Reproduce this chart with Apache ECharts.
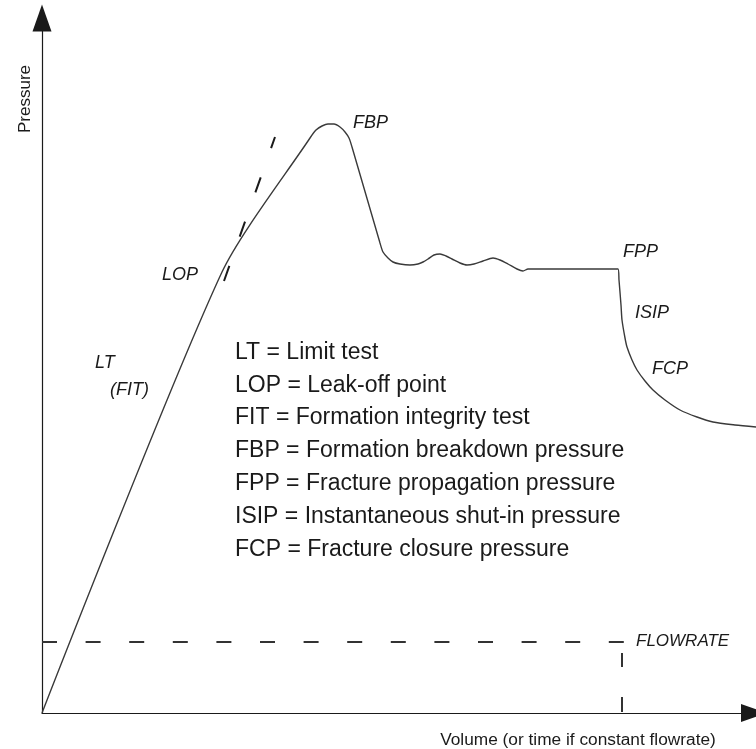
<!DOCTYPE html>
<html>
<head>
<meta charset="utf-8">
<script src="https://cdn.jsdelivr.net/npm/echarts@6/dist/echarts.min.js"></script>
<style>
  html, body { margin: 0; padding: 0; background: #fff; }
  #chart { width: 756px; height: 749px; }
</style>
</head>
<body>
<div id="chart"></div>
<script>
// pressure curve (arbitrary units, volume vs pressure)
const volume = [0, 180, 268, 274, 280, 286, 292, 298, 303, 307, 310, 338, 341, 346, 351, 358, 368, 376, 381, 386,
  392, 398, 404, 410, 418, 425, 432, 441, 451, 458, 466, 475, 481, 486, 489, 576, 577, 579, 580, 583,
  585, 590, 595, 603, 611, 623, 638, 655, 671, 693, 714];
const pressure = [0, 441, 575, 583, 587, 589, 589, 586, 581, 575, 566, 470, 461, 455, 451, 449, 448, 449, 451, 454,
  458, 459, 457, 454, 450, 448, 449, 452, 455, 453, 449, 444, 442, 444, 444, 444, 433, 408, 393, 375,
  366, 353, 343, 332, 323, 313, 303, 296, 291, 288, 286];

// extrapolated LT line beyond the leak-off point
const extrapVolume = [182, 233];
const extrapPressure = [432, 576];

// flowrate (constant until shut-in)
const flowVolume = [0, 583];
const flowLevel = [71, 71];
const shutInVolume = [580, 580];
const shutInLevel = [1, 60];

const axisNames = ['Volume (or time if constant flowrate)', 'Pressure'];
const pointLabels = ['FBP', 'LOP', 'FPP', 'ISIP', 'FCP', 'LT', '(FIT)', 'FLOWRATE'];
const legendLines = [
  'LT = Limit test',
  'LOP = Leak-off point',
  'FIT = Formation integrity test',
  'FBP = Formation breakdown pressure',
  'FPP = Fracture propagation pressure',
  'ISIP = Instantaneous shut-in pressure',
  'FCP = Fracture closure pressure'
];

const pairs = (xs, ys) => xs.map((x, i) => [x, ys[i]]);

const FONT = "'Liberation Sans', Arial, sans-serif";
const ink = '#1a1a1a';

// where the italic labels sit (left, middle)
const labelPos = [[353, 123], [162, 275], [623, 252], [635, 313], [652, 369], [95, 363], [110, 390], [636, 641]];

const graphics = [];
pointLabels.forEach((t, i) => {
  graphics.push({
    type: 'text',
    x: labelPos[i][0],
    y: labelPos[i][1],
    style: {
      text: t,
      font: 'italic ' + (t === 'FLOWRATE' ? 17 : 18) + 'px ' + FONT,
      fill: ink,
      textAlign: 'left',
      textVerticalAlign: 'middle'
    }
  });
});
legendLines.forEach((t, i) => {
  graphics.push({
    type: 'text',
    x: 235,
    y: 352.5 + i * 32.8,
    style: {
      text: t,
      font: '23px ' + FONT,
      fill: ink,
      textAlign: 'left',
      textVerticalAlign: 'middle'
    }
  });
});
graphics.push({
  type: 'text',
  x: 578,
  y: 740,
  style: { text: axisNames[0], font: '17.3px ' + FONT, fill: ink, textAlign: 'center', textVerticalAlign: 'middle' }
});
graphics.push({
  type: 'text',
  x: 25,
  y: 99,
  rotation: Math.PI / 2,
  style: { text: axisNames[1], font: '17px ' + FONT, fill: ink, textAlign: 'center', textVerticalAlign: 'middle' }
});

const hiddenAxis = (max, arrow) => ({
  type: 'value',
  min: 0,
  max: max,
  axisLine: {
    show: true,
    symbol: ['none', 'triangle'],
    symbolSize: arrow,
    lineStyle: { color: ink, width: 1.2 }
  },
  axisTick: { show: false },
  axisLabel: { show: false },
  splitLine: { show: false }
});

const option = {
  animation: false,
  backgroundColor: '#fff',
  grid: { left: 42, right: 2, top: 18, bottom: 36 },
  xAxis: hiddenAxis(712, [18, 26]),
  yAxis: hiddenAxis(695, [19, 27]),
  series: [
    {
      type: 'line',
      data: pairs(volume, pressure),
      showSymbol: false,
      smooth: 0.25,
      clip: true,
      lineStyle: { color: '#3a3a3a', width: 1.4 }
    },
    {
      type: 'line',
      data: pairs(extrapVolume, extrapPressure),
      showSymbol: false,
      lineStyle: { color: ink, width: 2, type: [16, 31] }
    },
    {
      type: 'line',
      data: pairs(flowVolume, flowLevel),
      showSymbol: false,
      lineStyle: { color: '#333', width: 2, type: [15, 28.6] }
    },
    {
      type: 'line',
      data: pairs(shutInVolume, shutInLevel),
      showSymbol: false,
      lineStyle: { color: '#333', width: 2, type: [15, 30] }
    }
  ],
  graphic: graphics
};

const mychart = echarts.init(document.getElementById('chart'));
mychart.setOption(option);
</script>
</body>
</html>
